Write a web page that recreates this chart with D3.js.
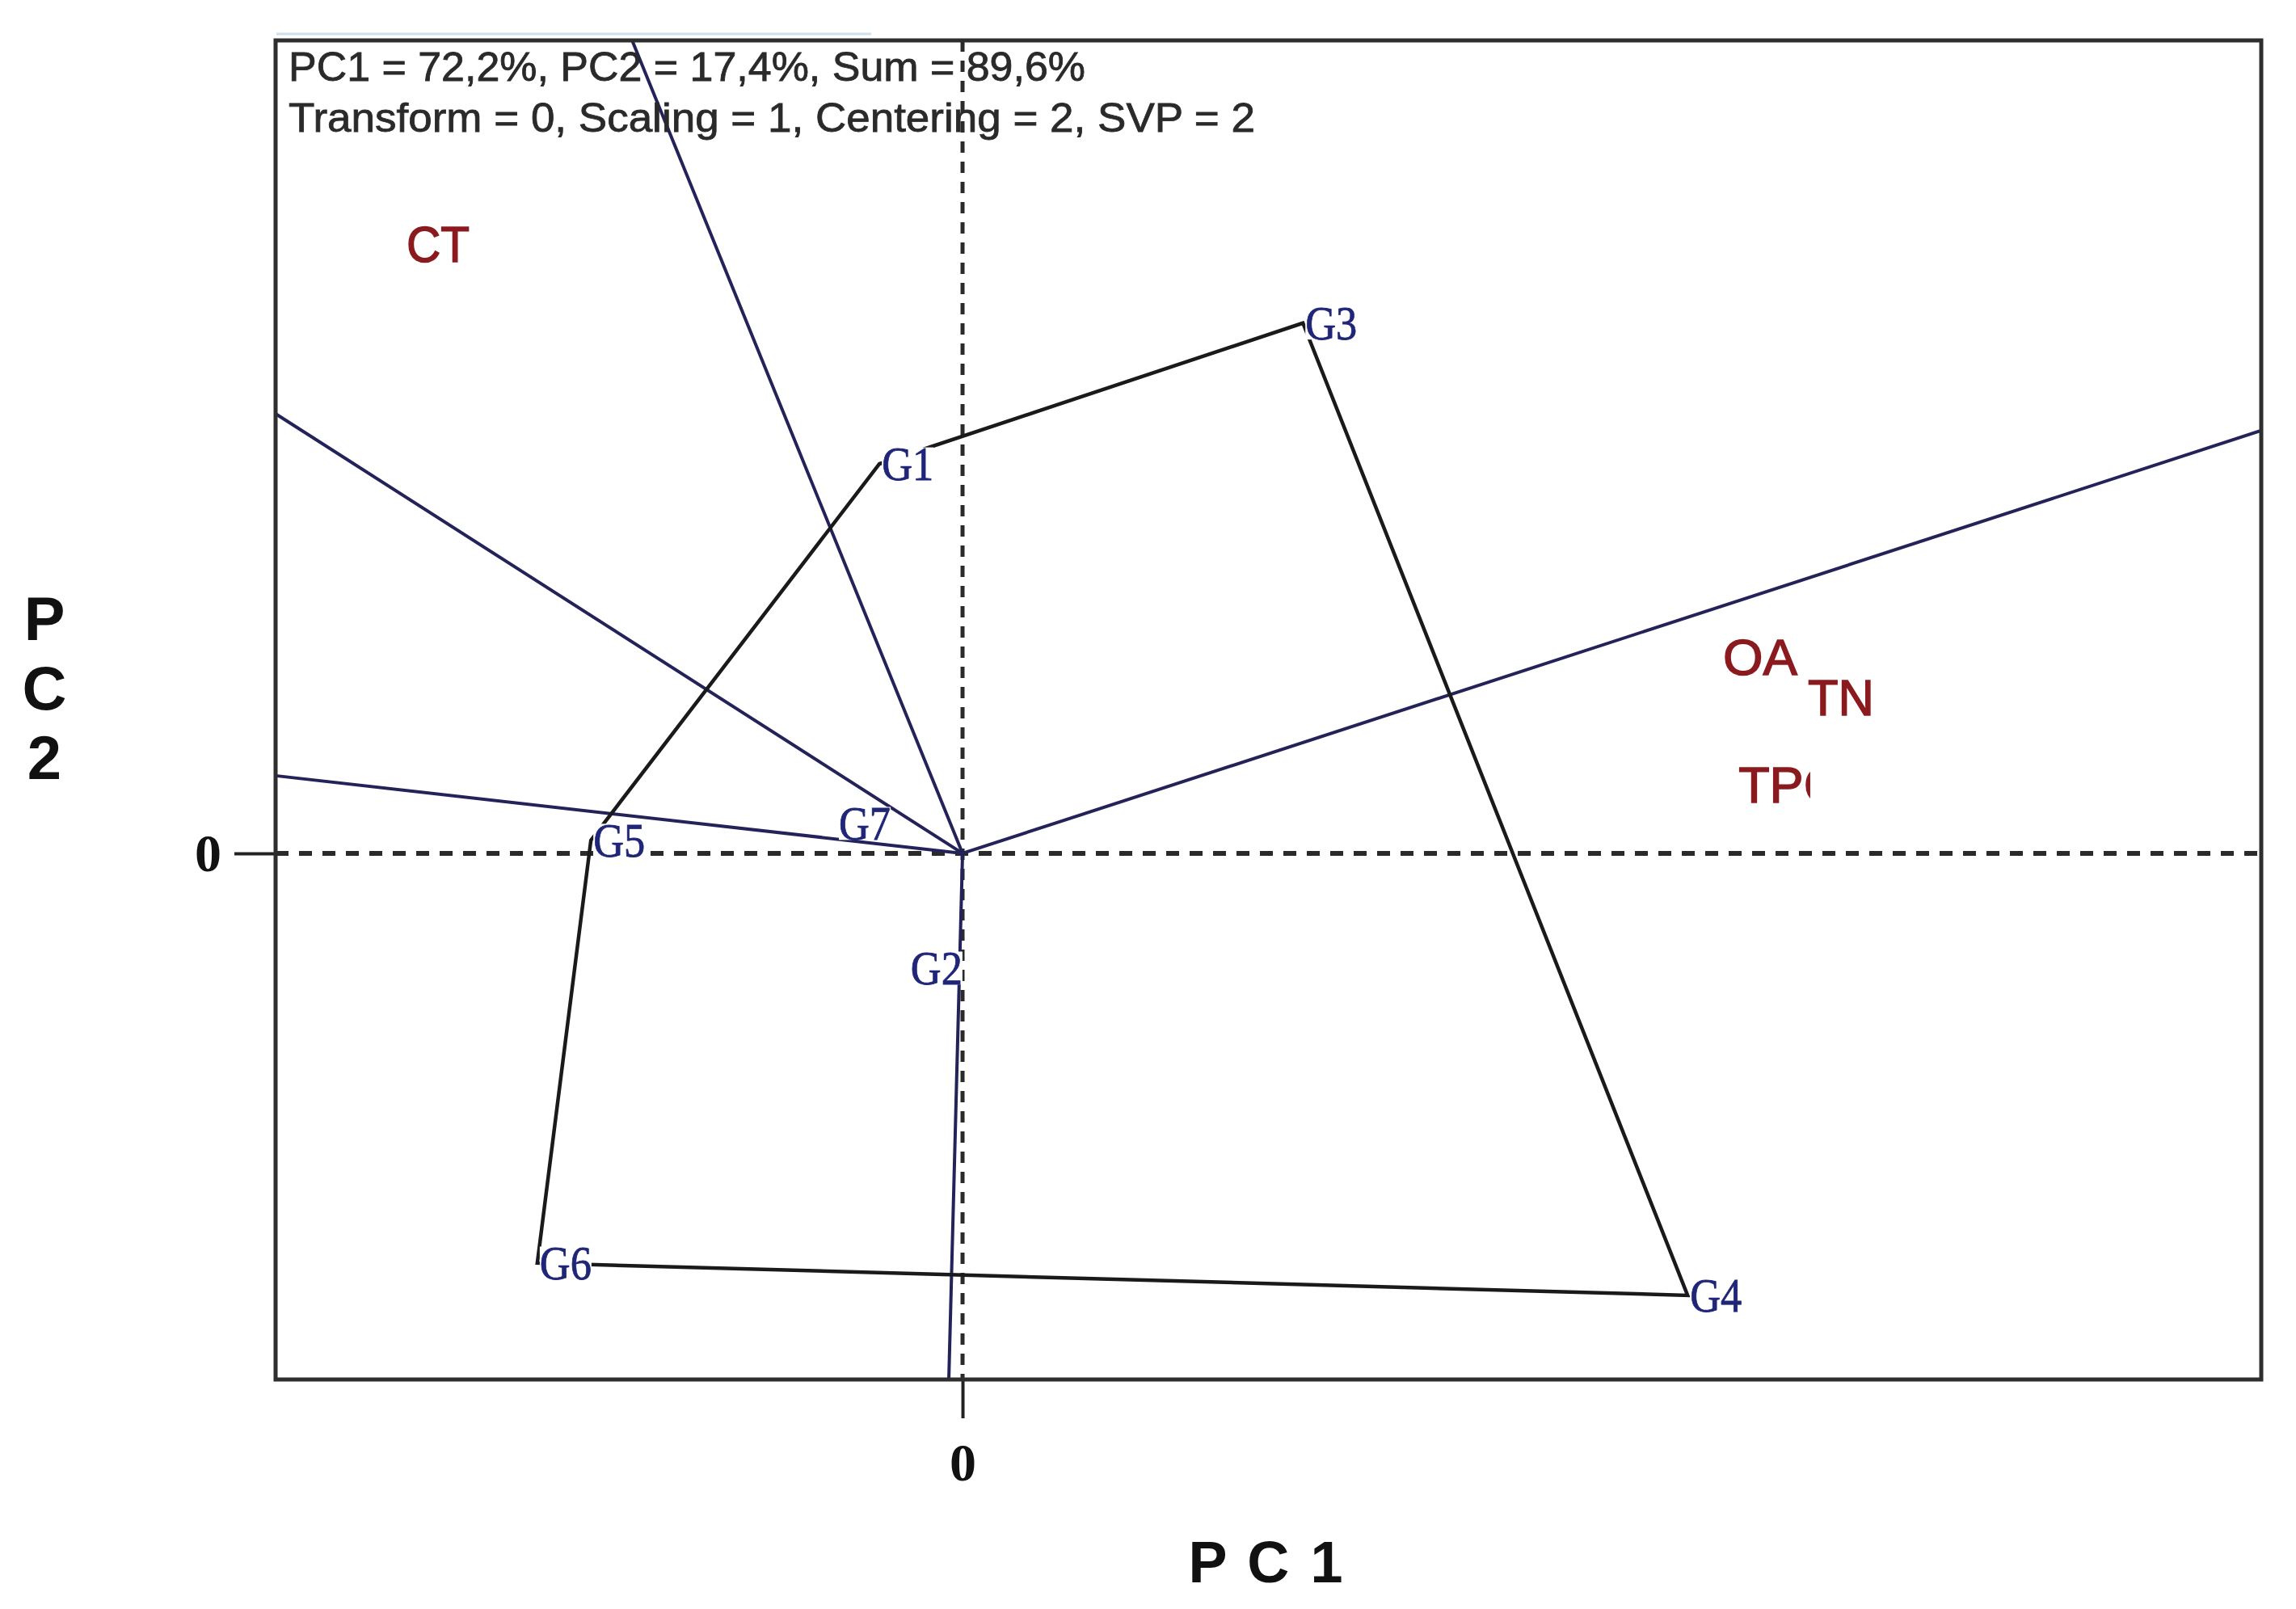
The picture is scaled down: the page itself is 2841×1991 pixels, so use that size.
<!DOCTYPE html>
<html>
<head>
<meta charset="utf-8">
<script src="https://cdn.jsdelivr.net/npm/d3@7"></script>
<style>
	body{margin:0;background:#fff;}
	svg{display:block;}
</style>
</head>
<body>
<div id="chart-area"></div>
<script>
// GGE BIPLOT - WHICH WON WHERE

//---------DATA--------------------
let genotypes=["G1","G2","G3","G4","G5","G6","G7"];
let genoPC1=[-0.242,-0.158,0.991,2.111,-1.082,-1.238,-0.367];
let genoPC2=[1.134,-0.334,1.544,-1.287,0.038,-1.193,0.087];

// polygon vertices (convex hull), in drawing order
let hull=["G3","G1","G5","G6","G4"];

// rays from the origin, perpendicular to the hull sides (end points at the frame)
let rayPC1=[-0.962,-2.0,-2.0,-0.04,3.781];
let rayPC2=[2.367,1.28,0.226,-1.532,1.231];

let traits=["CT","OA","TN","TPC"];
let traitPC1=[-1.619,2.214,2.461,2.259];
let traitPC2=[1.722,0.52,0.402,0.148];

let xTicks=[0];
let yTicks=[0];

let infoLines=["PC1 = 72,2%, PC2 = 17,4%, Sum = 89,6%","Transform = 0, Scaling = 1, Centering = 2, SVP = 2"];

//---------LAYOUT------------------
let margin={top:50,right:43,left:341,bottom:284};
let width=2841-margin.left-margin.right;
let height=1991-margin.top-margin.bottom;

let svg=d3.select("#chart-area").append('svg')
	.attr('width',width+margin.left+margin.right)
	.attr('height',height+margin.top+margin.bottom);

let g=svg.append('g')
	.attr("transform","translate("+margin.left+", "+margin.top+")");

//---------SCALES--------------
let x=d3.scaleLinear()
	.domain([-2.0,3.781])
	.range([0,width]);

let y=d3.scaleLinear()
	.domain([-1.532,2.367])
	.range([height,0]);

//-------SCREEN ARTEFACT AT TOP-----
svg.append('line')
	.attr('x1',margin.left+1).attr('x2',1078)
	.attr('y1',42).attr('y2',42)
	.attr('stroke','#cfe0ea')
	.attr('stroke-width',3);

//-------AXES------------------
let xAxis=d3.axisBottom(x).tickValues(xTicks).tickSize(48).tickPadding(14).tickFormat(d3.format('d'));
let xAxisGroup=g.append('g')
	.attr('class','x-axis')
	.attr("transform","translate(0, "+height+")")
	.call(xAxis);

let yAxis=d3.axisLeft(y).tickValues(yTicks).tickSize(51).tickPadding(16).tickFormat(d3.format('d'));
let yAxisGroup=g.append('g')
	.attr('class','y-axis')
	.call(yAxis);

[xAxisGroup,yAxisGroup].forEach(function(ax){
	ax.select('.domain').remove();
	ax.selectAll('line').attr('stroke','#222').attr('stroke-width',4);
	ax.selectAll('text')
		.attr('fill','#111')
		.attr('font-family','"Liberation Serif", serif')
		.attr('font-weight','bold')
		.attr('font-size','66px');
});
xAxisGroup.selectAll('text').attr('dy','0.95em');

//-------ZERO LINES------------
g.append('line')
	.attr('x1',x(0)).attr('x2',x(0))
	.attr('y1',0).attr('y2',height)
	.attr('stroke','#2a2a2a')
	.attr('stroke-width',5)
	.attr('stroke-dasharray','14 11');

g.append('line')
	.attr('x1',0).attr('x2',width)
	.attr('y1',y(0)).attr('y2',y(0))
	.attr('stroke','#2a2a2a')
	.attr('stroke-width',6)
	.attr('stroke-dasharray','16 13');

//-------RAYS------------------
g.selectAll('.ray').data(rayPC1).enter()
	.append('line')
		.attr('class','ray')
		.attr('x1',x(0))
		.attr('y1',y(0))
		.attr('x2',d=>x(d))
		.attr('y2',(d,i)=>y(rayPC2[i]))
		.attr('stroke','#23235a')
		.attr('stroke-width',4);

//-------POLYGON---------------
let hullPoints=hull.map(function(name){
	let i=genotypes.indexOf(name);
	return [x(genoPC1[i]),y(genoPC2[i])];
});
g.append('path')
	.attr('d',d3.line()(hullPoints)+'Z')
	.attr('fill','none')
	.attr('stroke','#1a1a1a')
	.attr('stroke-width',4.5);

//-------GENOTYPE LABELS-------
let gFont=60;
let gCap=gFont*0.68;
let genoLabels=g.selectAll('.geno').data(genotypes).enter()
	.append('g')
		.attr('class','geno')
		.attr("transform",(d,i)=>"translate("+x(genoPC1[i])+", "+y(genoPC2[i])+")");

let genoText=genoLabels.append('text')
	.attr('x',3)
	.attr('y',gCap/2)
	.attr('font-family','"Liberation Serif", "Times New Roman", serif')
	.attr('font-size',gFont+'px')
	.attr('fill','#1f2577')
	.attr('stroke','#1f2577')
	.attr('stroke-width',0.8)
	.attr('textLength',64)
	.attr('lengthAdjust','spacingAndGlyphs')
	.text(d=>d);

genoLabels.insert('rect','text')
	.attr('x',3)
	.attr('y',-gCap/2)
	.attr('width',64)
	.attr('height',gCap)
	.attr('fill','#fff');

//-------TRAIT LABELS----------
let defs=svg.append('defs');
defs.append('clipPath').attr('id','tpc-clip')
	.append('rect')
		.attr('x',x(traitPC1[3])-10).attr('y',y(traitPC2[3])-70)
		.attr('width',x(2.468)-x(traitPC1[3])+10).attr('height',90);

let traitWidth={CT:78,OA:92,TN:82};
traits.forEach(function(t,i){
	let txt=g.append('text')
		.attr('x',x(traitPC1[i]))
		.attr('y',y(traitPC2[i]))
		.attr('font-family','"Liberation Sans", Arial, sans-serif')
		.attr('font-size','63px')
		.attr('fill','#8b1a1e')
		.attr('stroke','#8b1a1e')
		.attr('stroke-width',1.5)
		.text(t);
	if(traitWidth[t]){
		txt.attr('textLength',traitWidth[t]).attr('lengthAdjust','spacingAndGlyphs');
	}
	if(t==="TPC"){
		txt.attr('clip-path','url(#tpc-clip)');
	}
});

//-------FRAME-----------------
g.append('rect')
	.attr('x',0).attr('y',0)
	.attr('width',width).attr('height',height)
	.attr('fill','none')
	.attr('stroke','#2e2e2e')
	.attr('stroke-width',5);

//-------INFO TEXT-------------
let infoLength=[986,1196];
infoLines.forEach(function(line,i){
	g.append('text')
		.attr('x',16)
		.attr('y',50+i*63)
		.attr('font-family','"Liberation Sans", Arial, sans-serif')
		.attr('font-size','50px')
		.attr('fill','#2a2a2a')
		.attr('stroke','#2a2a2a')
		.attr('stroke-width',0.8)
		.attr('textLength',infoLength[i])
		.attr('lengthAdjust','spacingAndGlyphs')
		.text(line);
});

//------AXIS LABELS------------
svg.append('text')
	.attr('x',1566)
	.attr('y',1958)
	.attr('text-anchor','middle')
	.attr('font-family','"Liberation Sans", Arial, sans-serif')
	.attr('font-weight','bold')
	.attr('font-size','72px')
	.attr('fill','#111')
	.attr('textLength',191)
	.text('P C 1');

let yLabel=["P","C","2"];
let yLabelBase=[792,878,964];
yLabel.forEach(function(ch,i){
	svg.append('text')
		.attr('x',55)
		.attr('y',yLabelBase[i])
		.attr('text-anchor','middle')
		.attr('font-family','"Liberation Sans", Arial, sans-serif')
		.attr('font-weight','bold')
		.attr('font-size','76px')
		.attr('fill','#111')
		.text(ch);
});
</script>
</body>
</html>
